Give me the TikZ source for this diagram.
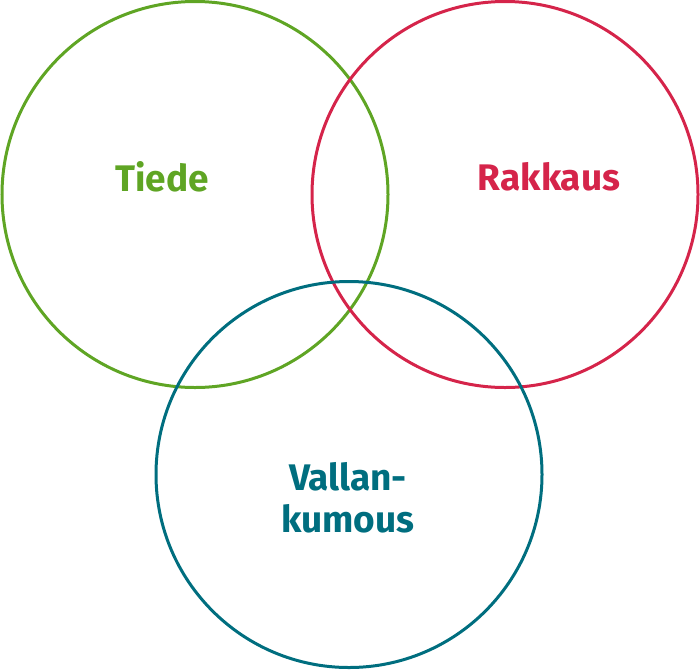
\documentclass[tikz,border=0pt]{standalone}
\usepackage{fontspec}
\setmainfont{Fira Sans}
\definecolor{cgreen}{HTML}{5FA524}
\definecolor{cred}{HTML}{D5244A}
\definecolor{cteal}{HTML}{006E7F}
\begin{document}
\begin{tikzpicture}[x=1pt,y=-1pt,
  ring/.style={line width=3pt},
  lbl/.style={font=\fontsize{37}{42}\selectfont\bfseries, align=center, inner sep=0pt}]
\useasboundingbox (0,0) rectangle (700,670);
\draw[ring, cgreen] (195,194.5) circle[radius=193];
\draw[ring, cred] (505,194.5) circle[radius=193];
\draw[ring, cteal] (349,474.5) circle[radius=193];
\node[lbl, text=cgreen] (tiede) at (162,177) {Tiede};
\node[lbl, text=cred] (rakkaus) at (549,177) {Rakkaus};
\node[lbl, text=cteal] (vallan) at (348,498) {Vallan-\\kumous};
\end{tikzpicture}
\end{document}
